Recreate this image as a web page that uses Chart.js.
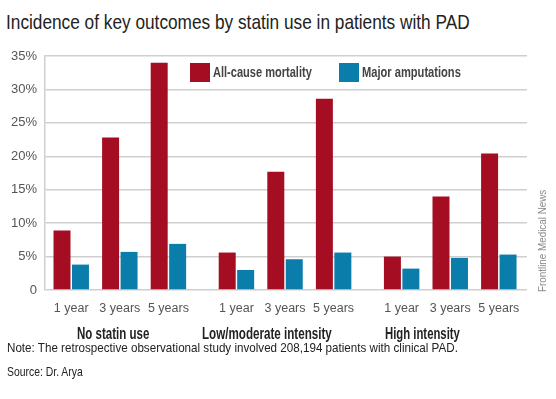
<!DOCTYPE html>
<html>
<head>
<meta charset="utf-8">
<script src="https://cdn.jsdelivr.net/npm/chart.js@4/dist/chart.umd.min.js"></script>
<style>
  html, body { margin: 0; padding: 0; background: #fff; }
  body { width: 556px; height: 399px; position: relative; overflow: hidden;
         font-family: 'Liberation Sans', Arial, sans-serif; }
  #wrap { position: absolute; left: 0; top: 0; width: 556px; height: 399px; }
  .txt { position: absolute; white-space: nowrap; transform-origin: 0 0; }
  #titulo { left: 6px; top: 10px; font-size: 21px; color: #222; }
  .grupo { top: 325px; font-size: 16px; font-weight: bold; color: #222; }
  #nota { left: 7px; top: 340px; font-size: 13px; color: #222; }
  #fuente { left: 7px; top: 364px; font-size: 13px; color: #222; }
  #credito { left: 536px; top: 292px; font-size: 11px; color: #888; }
  .caja { position: absolute; width: 20px; height: 19px; }
  .ley { top: 63px; font-size: 15.5px; font-weight: bold; color: #444; }
</style>
</head>
<body>
<div class="txt" id="titulo">Incidence of key outcomes by statin use in patients with PAD</div>
<div id="wrap"><canvas id="grafico" width="556" height="399"></canvas></div>
<div id="extras"></div>
<div class="txt" id="nota">Note: The retrospective observational study involved 208,194 patients with clinical PAD.</div>
<div class="txt" id="fuente">Source: Dr. Arya</div>
<div class="txt" id="credito">Frontline Medical News</div>
<script>
  // Datos
  const grupos = ['No statin use', 'Low/moderate intensity', 'High intensity'];
  const periodos = ['1 year', '3 years', '5 years'];
  const mortalidad = [8.9, 22.8, 34.0, 5.6, 17.7, 28.6, 5.0, 14.0, 20.4];
  const amputaciones = [3.8, 5.7, 6.9, 3.0, 4.6, 5.6, 3.2, 4.8, 5.3];
  const series = ['All-cause mortality', 'Major amputations'];
  const colores = ['#a50d22', '#0a7daa'];
  const yTicks = [0, 5, 10, 15, 20, 25, 30, 35];

  const fuente = "'Liberation Sans', Arial, sans-serif";
  const salto = 3.4; // distancia entre grupos en unidades de x

  // posición x de cada barra: grupo * salto + periodo
  const posX = [];
  const etiquetas = [];
  grupos.forEach((g, gi) => {
    periodos.forEach((p, pi) => {
      posX.push(gi * salto + pi);
      etiquetas.push(p);
    });
  });

  const puntos = arr => arr.map((v, i) => ({ x: posX[i], y: v }));

  let ctx = document.getElementById('grafico').getContext('2d');
  let grafico = new Chart(ctx, {
    type: 'bar',
    data: {
      datasets: [{
        label: series[0],
        data: puntos(mortalidad),
        backgroundColor: colores[0]
      }, {
        label: series[1],
        data: puntos(amputaciones),
        backgroundColor: colores[1]
      }]
    },
    options: {
      responsive: false,
      animation: false,
      categoryPercentage: 0.76,
      barPercentage: 0.92,
      layout: { padding: { top: 56, right: 29, left: 0, bottom: 0 } },
      plugins: {
        legend: { display: false },
        tooltip: { enabled: false }
      },
      scales: {
        x: {
          type: 'linear',
          offset: false,
          min: -0.54,
          max: 2 * salto + 2 + 0.58,
          grid: { display: false, offset: false },
          border: { display: false },
          afterBuildTicks: s => { s.ticks = posX.map(v => ({ value: v })); },
          afterFit: s => { s.height = 399 - 290; },
          ticks: {
            autoSkip: false,
            maxRotation: 0,
            padding: 3,
            color: '#555',
            font: { family: fuente, size: 12.5 },
            callback: (v, i) => etiquetas[i]
          }
        },
        y: {
          min: 0,
          max: 35,
          afterBuildTicks: s => { s.ticks = yTicks.map(v => ({ value: v })); },
          afterFit: s => { s.width = 45; },
          grid: { color: '#cfcfcf', lineWidth: 1.5, drawTicks: false },
          border: { display: true, color: '#cfcfcf', width: 1.5 },
          ticks: {
            padding: 8,
            color: '#555',
            font: { family: fuente, size: 13 },
            callback: v => v === 0 ? '0' : v + '%'
          }
        }
      }
    }
  });

  // estrecha un texto hasta el ancho que tiene en la referencia
  function ajustar(el, ancho, centrado) {
    const w = el.scrollWidth;
    const k = ancho / w;
    el.style.transform = 'scaleX(' + k + ')';
    if (centrado) el.style.left = (parseFloat(el.style.left) - ancho / 2) + 'px';
  }

  const extras = document.getElementById('extras');

  // Leyenda
  const leyX = [190, 339];
  const leyAncho = [99, 99];
  series.forEach((s, i) => {
    const c = document.createElement('div');
    c.className = 'caja';
    c.style.left = leyX[i] + 'px';
    c.style.top = '63px';
    c.style.background = colores[i];
    extras.appendChild(c);
    const t = document.createElement('div');
    t.className = 'txt ley';
    t.style.left = (leyX[i] + 23) + 'px';
    t.textContent = s;
    extras.appendChild(t);
    ajustar(t, leyAncho[i]);
  });

  // Etiquetas de grupo
  const centrosGrupo = [113, 267, 422];
  const anchosGrupo = [72, 130, 75];
  grupos.forEach((g, i) => {
    const d = document.createElement('div');
    d.className = 'txt grupo';
    d.style.left = centrosGrupo[i] + 'px';
    d.textContent = g;
    extras.appendChild(d);
    ajustar(d, anchosGrupo[i], true);
  });

  ajustar(document.getElementById('titulo'), 464);
  ajustar(document.getElementById('nota'), 451);
  ajustar(document.getElementById('fuente'), 76);
  const cred = document.getElementById('credito');
  cred.style.transform = 'rotate(-90deg) scaleX(' + (102 / cred.scrollWidth) + ')';
</script>
</body>
</html>
